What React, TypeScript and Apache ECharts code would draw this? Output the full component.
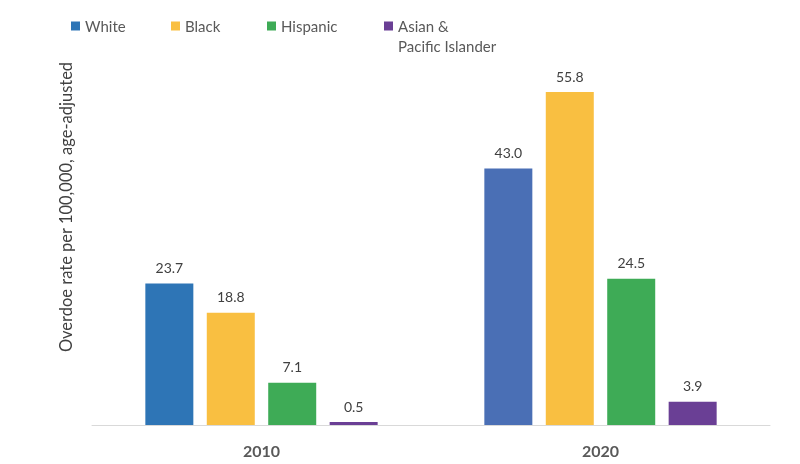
import React, { useEffect, useRef } from "react";
import * as echarts from "echarts";

const categories = ["2010", "2020"];
const seriesNames = ["White", "Black", "Hispanic", "Asian & Pacific Islander"];
const white = [23.7, 43.0];
const black = [18.8, 55.8];
const hispanic = [7.1, 24.5];
const asian = [0.5, 3.9];
const yAxisTitle = "Overdoe rate per 100,000, age-adjusted";

const FONT = "Lato, 'Open Sans', sans-serif";

export default function App() {
  const ref = useRef<HTMLDivElement>(null);
  useEffect(() => {
    if (!ref.current) return;
    const chart = echarts.init(ref.current, null, { renderer: "svg" });
    const label = {
      show: true,
      position: "top",
      distance: 9,
      color: "#404040",
      fontSize: 14,
      fontFamily: FONT,
      formatter: (p: any) => Number(p.value).toFixed(1),
    };
    const mk = (name: string, data: any[], color: string) => ({
      name,
      type: "bar",
      data,
      barWidth: 48,
      barGap: "28%",
      itemStyle: { color },
      label,
    });
    const legendText = { color: "#595959", fontSize: 15, fontFamily: FONT, lineHeight: 20 };
    const legendBase = {
      top: 11,
      itemWidth: 9,
      itemHeight: 9,
      icon: "rect",
      textStyle: legendText,
      itemGap: 4,
    };
    chart.setOption({
      animation: false,
      grid: { left: 92, right: 30, top: 67, bottom: 39 },
      legend: [
        { ...legendBase, left: 66, data: [seriesNames[0]] },
        { ...legendBase, left: 166, data: [seriesNames[1]] },
        { ...legendBase, left: 262, data: [seriesNames[2]] },
        {
          ...legendBase,
          left: 379,
          data: [seriesNames[3]],
          icon: "path://M0,0h9v9h-9z M0,29h0.01v0.01h-0.01z",
          itemHeight: 29,
          formatter: () => "Asian &\nPacific Islander",
        },
      ],
      xAxis: {
        type: "category",
        data: categories,
        axisLine: { show: true, lineStyle: { color: "#d9d9d9", width: 1 } },
        axisTick: { show: false },
        axisLabel: {
          color: "#595959",
          fontSize: 16,
          fontWeight: "bold",
          fontFamily: FONT,
          margin: 17,
        },
      },
      yAxis: {
        type: "value",
        min: 0,
        max: 60,
        axisLabel: { show: false },
        axisLine: { show: false },
        axisTick: { show: false },
        splitLine: { show: false },
      },
      graphic: [
        {
          type: "text",
          x: 66,
          y: 207,
          rotation: Math.PI / 2,
          style: {
            text: yAxisTitle,
            fill: "#404040",
            fontSize: 16.5,
            fontFamily: FONT,
            align: "center",
            verticalAlign: "middle",
          },
        },
      ],
      series: [
        mk(
          seriesNames[0],
          [
            { value: white[0], itemStyle: { color: "#2E75B6" } },
            { value: white[1], itemStyle: { color: "#4A6FB5" } },
          ],
          "#2E75B6"
        ),
        mk(seriesNames[1], black, "#F9BF41"),
        mk(seriesNames[2], hispanic, "#3EAB56"),
        mk(seriesNames[3], asian, "#6A3F95"),
      ],
    });
    return () => chart.dispose();
  }, []);
  return (
    <div
      ref={ref}
      style={{ position: "fixed", left: 0, top: 0, width: 800, height: 464 }}
    />
  );
}
